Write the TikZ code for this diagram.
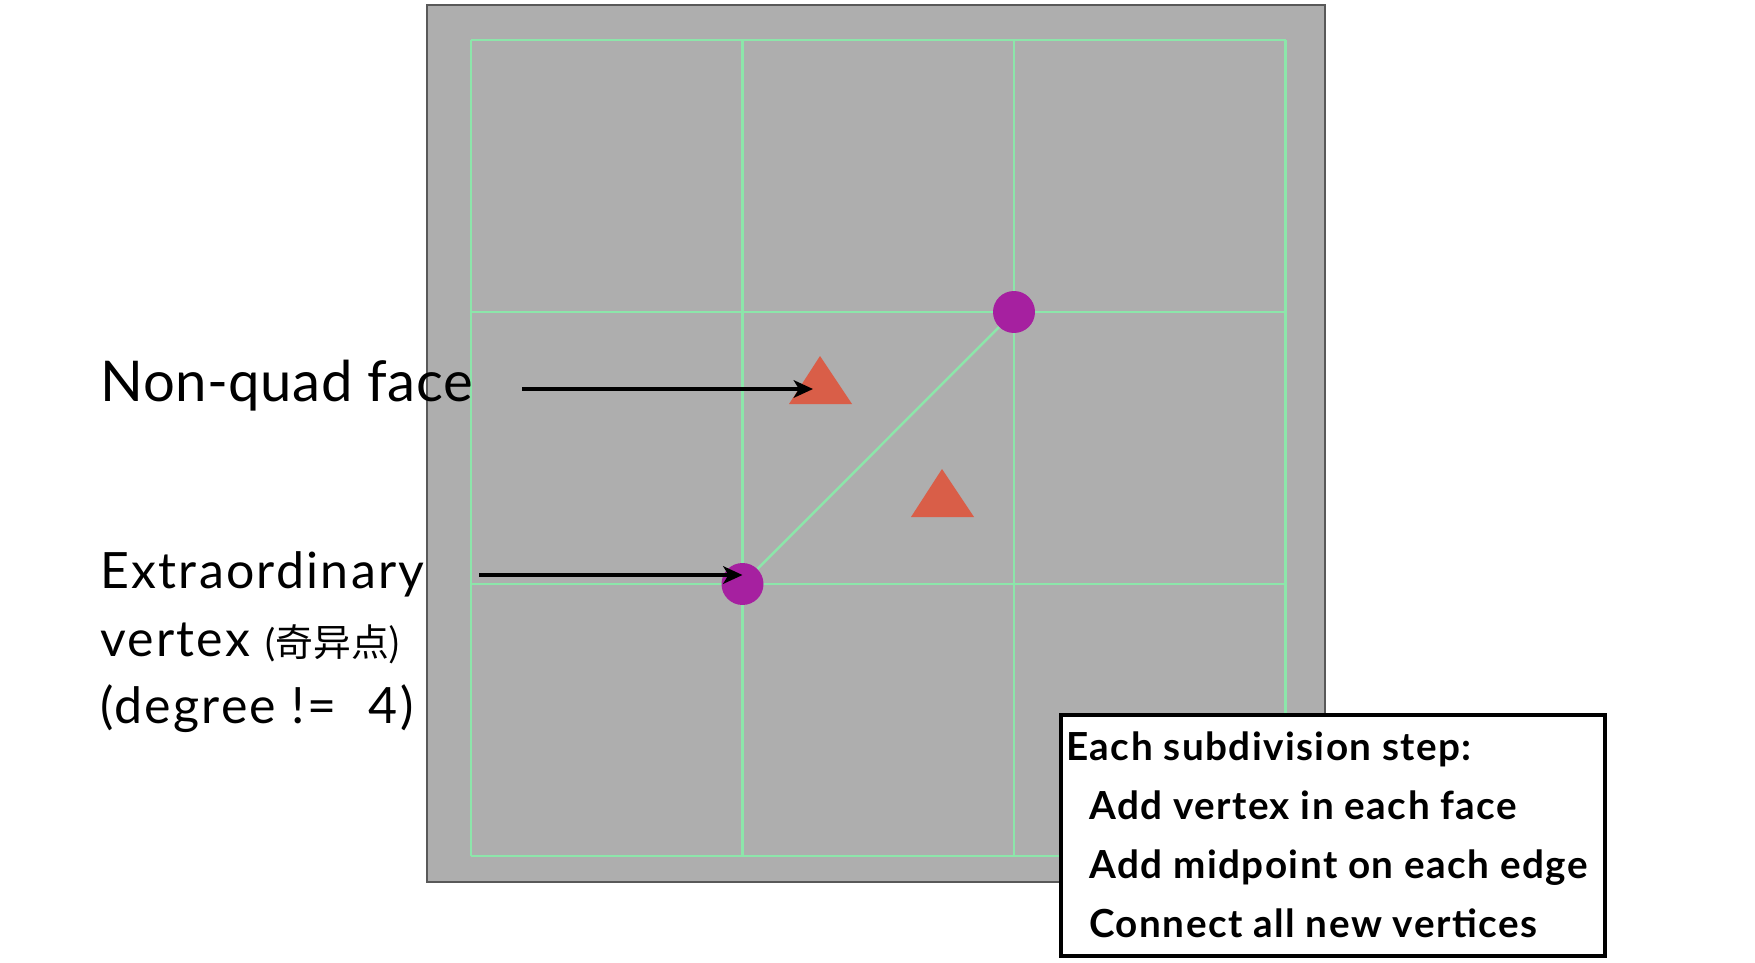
\documentclass[tikz,border=0pt]{standalone}
\usepackage{fontspec}
\setmainfont{Lato}
\newfontfamily\cjk{Noto Sans CJK SC}
\usetikzlibrary{arrows.meta}
\definecolor{meshgray}{RGB}{174,174,174}
\definecolor{meshgreen}{RGB}{140,230,170}
\definecolor{vertpurple}{RGB}{166,32,160}
\definecolor{facered}{RGB}{217,94,72}
\begin{document}
\begin{tikzpicture}[x=0.02cm, y=-0.02cm,
  meshline/.style={draw=meshgreen, line width=1.4pt},
  vert/.style={circle, fill=vertpurple, inner sep=0pt, minimum size=0.84cm},
  tri/.style={fill=facered},
  pointer/.style={-{Stealth[length=11pt,width=10pt,inset=3pt]}, line width=1.9pt},
  note/.style={anchor=base west, inner sep=0pt},
  notefont/.style={font=\fontsize{28.5}{32}\selectfont\addfontfeatures{LetterSpace=4.5}},
  stepbox/.style={draw=black, fill=white, line width=2.2pt, minimum width=10.88cm, minimum height=4.82cm},
  stepfont/.style={font=\fontsize{22}{26}\selectfont\bfseries\addfontfeatures{LetterSpace=3.7}}]
\useasboundingbox (0,0) rectangle (1755,963);
\fill[meshgray, draw=black!65, line width=0.8pt] (427,5) rectangle (1325,882);
\foreach \i in {0,...,3} {
  \draw[meshline] (471+271.5*\i,40) -- (471+271.5*\i,856);
  \draw[meshline] (471,40+272*\i) -- (1285.5,40+272*\i);
}
\foreach \x/\y in {820/356, 942/469}
  \fill[tri] (\x,\y) -- ++(32,48) -- ++(-63,0) -- cycle;
\node[vert] (ev) at (742.5,584) {};
\node[vert] (ov) at (1014,312) {};
\draw[meshline] (ev) -- (ov);
\coordinate (nqface) at (813,389);
\coordinate (nqtail) at (522,389);
\coordinate (evtail) at (479,575);
\draw[pointer] (nqtail) -- (nqface);
\draw[pointer] (evtail) -- (evtail -| ev);
\node[note, font=\fontsize{32}{37}\selectfont\addfontfeatures{LetterSpace=1}] (nqtext) at (100,401) {Non-quad face};
\node[note, notefont] (evtext) at (100,588) {Extraordinary};
\node[note, notefont] (evtext2) at (100,656) {vertex {\fontsize{21.5}{21}\selectfont(\cjk 奇异点)}};
\node[note, notefont] (evtext3) at (100,723) {(degree != \hspace{0.35em}4)};
\node[stepbox] (steps) at (1333,835.5) {};
\node[note, stepfont] (stephead) at (1066,760) {Each subdivision step:};
\foreach \t [count=\i] in {Add vertex in each face, Add midpoint on each edge, Connect all new vertices}
  \node[note, stepfont] (step\i) at (1089,760+59.3*\i) {\t};
\end{tikzpicture}
\end{document}
